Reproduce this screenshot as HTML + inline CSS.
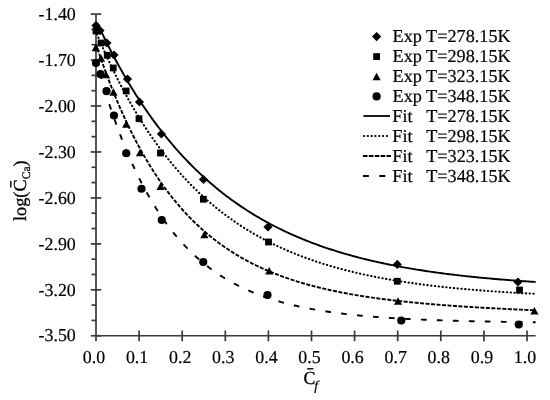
<!DOCTYPE html>
<html><head><meta charset="utf-8"><style>html,body{margin:0;padding:0;background:#fff;width:550px;height:400px;overflow:hidden}</style></head>
<body>
<svg width="550" height="400" viewBox="0 0 550 400" style="display:block;filter:grayscale(1);text-rendering:geometricPrecision">
<rect width="550" height="400" fill="#fff"/>
<g stroke="#3a3a3a" stroke-width="1.7" fill="none">
<path d="M96 14.10V341.2"/>
<path d="M96 335.75H535.6"/>
<path d="M90.7 14.10H101.3"/>
<path d="M91.5 29.42H96"/>
<path d="M91.5 44.73H96"/>
<path d="M90.7 60.05H101.3"/>
<path d="M91.5 75.37H96"/>
<path d="M91.5 90.69H96"/>
<path d="M90.7 106.00H101.3"/>
<path d="M91.5 121.32H96"/>
<path d="M91.5 136.64H96"/>
<path d="M90.7 151.95H101.3"/>
<path d="M91.5 167.27H96"/>
<path d="M91.5 182.59H96"/>
<path d="M90.7 197.90H101.3"/>
<path d="M91.5 213.22H96"/>
<path d="M91.5 228.54H96"/>
<path d="M90.7 243.85H101.3"/>
<path d="M91.5 259.17H96"/>
<path d="M91.5 274.49H96"/>
<path d="M90.7 289.81H101.3"/>
<path d="M91.5 305.12H96"/>
<path d="M91.5 320.44H96"/>
<path d="M90.7 335.76H101.3"/>
<path d="M139.10 330.5V341.2"/>
<path d="M182.20 330.5V341.2"/>
<path d="M225.30 330.5V341.2"/>
<path d="M268.40 330.5V341.2"/>
<path d="M311.50 330.5V341.2"/>
<path d="M354.60 330.5V341.2"/>
<path d="M397.70 330.5V341.2"/>
<path d="M440.80 330.5V341.2"/>
<path d="M483.90 330.5V341.2"/>
<path d="M527.00 330.5V341.2"/>
</g>
<g font-family="Liberation Serif, serif" font-size="17.9" fill="#000" stroke="#000" stroke-width="0.2" text-anchor="end">
<text transform="translate(75.8,19.80) scale(1,1.02)">-1.40</text>
<text transform="translate(75.8,65.75) scale(1,1.02)">-1.70</text>
<text transform="translate(75.8,111.70) scale(1,1.02)">-2.00</text>
<text transform="translate(75.8,157.65) scale(1,1.02)">-2.30</text>
<text transform="translate(75.8,203.60) scale(1,1.02)">-2.60</text>
<text transform="translate(75.8,249.55) scale(1,1.02)">-2.90</text>
<text transform="translate(75.8,295.51) scale(1,1.02)">-3.20</text>
<text transform="translate(75.8,341.46) scale(1,1.02)">-3.50</text>
</g>
<g font-family="Liberation Serif, serif" font-size="17.9" fill="#000" stroke="#000" stroke-width="0.2" text-anchor="middle">
<text transform="translate(94.00,363.0) scale(1,1.02)">0.0</text>
<text transform="translate(137.10,363.0) scale(1,1.02)">0.1</text>
<text transform="translate(180.20,363.0) scale(1,1.02)">0.2</text>
<text transform="translate(223.30,363.0) scale(1,1.02)">0.3</text>
<text transform="translate(266.40,363.0) scale(1,1.02)">0.4</text>
<text transform="translate(309.50,363.0) scale(1,1.02)">0.5</text>
<text transform="translate(352.60,363.0) scale(1,1.02)">0.6</text>
<text transform="translate(395.70,363.0) scale(1,1.02)">0.7</text>
<text transform="translate(438.80,363.0) scale(1,1.02)">0.8</text>
<text transform="translate(481.90,363.0) scale(1,1.02)">0.9</text>
<text transform="translate(525.00,363.0) scale(1,1.02)">1.0</text>
</g>
<path d="M97.29 23.10 L98.76 26.24 L100.22 29.35 L101.69 32.43 L103.16 35.46 L104.62 38.46 L106.09 41.43 L107.55 44.36 L109.02 47.25 L110.49 50.11 L111.95 52.94 L113.42 55.74 L114.88 58.50 L116.35 61.23 L117.82 63.92 L119.28 66.59 L120.75 69.22 L122.21 71.82 L123.68 74.39 L125.15 76.93 L126.61 79.44 L128.08 81.92 L129.54 84.38 L131.01 86.80 L132.48 89.19 L133.94 91.56 L135.41 93.90 L136.87 96.21 L138.34 98.49 L139.81 100.75 L141.27 102.98 L142.74 105.18 L144.20 107.36 L145.67 109.51 L147.14 111.64 L148.60 113.74 L150.07 115.81 L151.53 117.87 L153.00 119.89 L154.47 121.90 L155.93 123.88 L157.40 125.83 L158.86 127.77 L160.33 129.68 L161.80 131.56 L163.26 133.43 L164.73 135.27 L166.19 137.10 L167.66 138.90 L169.13 140.68 L170.59 142.43 L172.06 144.17 L173.52 145.89 L174.99 147.59 L176.46 149.26 L177.92 150.92 L179.39 152.56 L180.85 154.17 L182.32 155.77 L183.79 157.35 L185.25 158.91 L186.72 160.46 L188.18 161.98 L189.65 163.49 L191.12 164.98 L192.58 166.45 L194.05 167.90 L195.51 169.34 L196.98 170.76 L198.45 172.16 L199.91 173.55 L201.38 174.92 L202.84 176.27 L204.31 177.61 L205.78 178.93 L207.24 180.24 L208.71 181.53 L210.17 182.81 L211.64 184.07 L213.11 185.31 L214.57 186.54 L216.04 187.76 L217.50 188.96 L218.97 190.15 L220.44 191.33 L221.90 192.49 L223.37 193.63 L224.83 194.77 L226.30 195.89 L227.76 196.99 L229.23 198.09 L230.70 199.17 L232.16 200.23 L233.63 201.29 L235.09 202.33 L236.56 203.36 L238.03 204.38 L239.49 205.39 L240.96 206.38 L242.42 207.36 L243.89 208.33 L245.36 209.29 L246.82 210.24 L248.29 211.18 L249.75 212.10 L251.22 213.02 L252.69 213.92 L254.15 214.82 L255.62 215.70 L257.08 216.57 L258.55 217.43 L260.02 218.29 L261.48 219.13 L262.95 219.96 L264.41 220.78 L265.88 221.59 L267.35 222.40 L268.81 223.19 L270.28 223.98 L271.74 224.75 L273.21 225.52 L274.68 226.27 L276.14 227.02 L277.61 227.76 L279.07 228.49 L280.54 229.21 L282.01 229.92 L283.47 230.63 L284.94 231.32 L286.40 232.01 L287.87 232.69 L289.34 233.36 L290.80 234.03 L292.27 234.68 L293.73 235.33 L295.20 235.97 L296.67 236.61 L298.13 237.23 L299.60 237.85 L301.06 238.46 L302.53 239.06 L304.00 239.66 L305.46 240.25 L306.93 240.83 L308.39 241.41 L309.86 241.98 L311.33 242.54 L312.79 243.10 L314.26 243.65 L315.72 244.19 L317.19 244.72 L318.66 245.25 L320.12 245.78 L321.59 246.29 L323.05 246.81 L324.52 247.31 L325.99 247.81 L327.45 248.30 L328.92 248.79 L330.38 249.27 L331.85 249.75 L333.32 250.22 L334.78 250.68 L336.25 251.14 L337.71 251.60 L339.18 252.05 L340.65 252.49 L342.11 252.93 L343.58 253.36 L345.04 253.79 L346.51 254.21 L347.97 254.63 L349.44 255.04 L350.91 255.45 L352.37 255.85 L353.84 256.25 L355.30 256.65 L356.77 257.04 L358.24 257.42 L359.70 257.80 L361.17 258.17 L362.63 258.55 L364.10 258.91 L365.57 259.27 L367.03 259.63 L368.50 259.99 L369.96 260.34 L371.43 260.68 L372.90 261.02 L374.36 261.36 L375.83 261.69 L377.29 262.02 L378.76 262.35 L380.23 262.67 L381.69 262.99 L383.16 263.30 L384.62 263.61 L386.09 263.92 L387.56 264.22 L389.02 264.52 L390.49 264.82 L391.95 265.11 L393.42 265.40 L394.89 265.69 L396.35 265.97 L397.82 266.25 L399.28 266.52 L400.75 266.80 L402.22 267.07 L403.68 267.33 L405.15 267.59 L406.61 267.85 L408.08 268.11 L409.55 268.36 L411.01 268.62 L412.48 268.86 L413.94 269.11 L415.41 269.35 L416.88 269.59 L418.34 269.83 L419.81 270.06 L421.27 270.29 L422.74 270.52 L424.21 270.74 L425.67 270.97 L427.14 271.19 L428.60 271.40 L430.07 271.62 L431.54 271.83 L433.00 272.04 L434.47 272.25 L435.93 272.45 L437.40 272.65 L438.87 272.85 L440.33 273.05 L441.80 273.25 L443.26 273.44 L444.73 273.63 L446.20 273.82 L447.66 274.01 L449.13 274.19 L450.59 274.37 L452.06 274.55 L453.53 274.73 L454.99 274.91 L456.46 275.08 L457.92 275.25 L459.39 275.42 L460.86 275.59 L462.32 275.75 L463.79 275.92 L465.25 276.08 L466.72 276.24 L468.19 276.39 L469.65 276.55 L471.12 276.70 L472.58 276.86 L474.05 277.01 L475.51 277.16 L476.98 277.30 L478.45 277.45 L479.91 277.59 L481.38 277.73 L482.84 277.87 L484.31 278.01 L485.78 278.15 L487.24 278.28 L488.71 278.42 L490.17 278.55 L491.64 278.68 L493.11 278.81 L494.57 278.94 L496.04 279.06 L497.50 279.19 L498.97 279.31 L500.44 279.43 L501.90 279.55 L503.37 279.67 L504.83 279.79 L506.30 279.90 L507.77 280.02 L509.23 280.13 L510.70 280.24 L512.16 280.35 L513.63 280.46 L515.10 280.57 L516.56 280.68 L518.03 280.78 L519.49 280.89 L520.96 280.99 L522.43 281.09 L523.89 281.19 L525.36 281.29 L526.82 281.39 L528.29 281.49 L529.76 281.58 L531.22 281.68 L532.69 281.77 L534.15 281.86 L535.62 281.95" fill="none" stroke="#000" stroke-width="1.9"/>
<path d="M96.00 31.91 L97.47 35.42 L98.94 38.89 L100.41 42.30 L101.88 45.67 L103.35 49.00 L104.82 52.28 L106.29 55.52 L107.76 58.72 L109.23 61.87 L110.70 64.98 L112.17 68.05 L113.64 71.08 L115.11 74.07 L116.58 77.01 L118.05 79.92 L119.52 82.79 L121.00 85.62 L122.47 88.42 L123.94 91.17 L125.41 93.89 L126.88 96.58 L128.35 99.23 L129.82 101.84 L131.29 104.42 L132.76 106.96 L134.23 109.48 L135.70 111.95 L137.17 114.40 L138.64 116.81 L140.11 119.19 L141.58 121.54 L143.05 123.86 L144.52 126.15 L145.99 128.40 L147.46 130.63 L148.93 132.83 L150.40 135.00 L151.87 137.14 L153.34 139.25 L154.81 141.33 L156.28 143.39 L157.75 145.42 L159.22 147.42 L160.69 149.40 L162.16 151.35 L163.63 153.28 L165.10 155.18 L166.57 157.05 L168.04 158.90 L169.52 160.73 L170.99 162.53 L172.46 164.31 L173.93 166.06 L175.40 167.79 L176.87 169.50 L178.34 171.19 L179.81 172.85 L181.28 174.50 L182.75 176.12 L184.22 177.72 L185.69 179.30 L187.16 180.85 L188.63 182.39 L190.10 183.91 L191.57 185.41 L193.04 186.88 L194.51 188.34 L195.98 189.78 L197.45 191.20 L198.92 192.61 L200.39 193.99 L201.86 195.36 L203.33 196.70 L204.80 198.03 L206.27 199.35 L207.74 200.64 L209.21 201.92 L210.68 203.18 L212.15 204.43 L213.62 205.66 L215.09 206.87 L216.56 208.07 L218.03 209.25 L219.51 210.42 L220.98 211.57 L222.45 212.71 L223.92 213.83 L225.39 214.94 L226.86 216.03 L228.33 217.11 L229.80 218.17 L231.27 219.22 L232.74 220.26 L234.21 221.28 L235.68 222.29 L237.15 223.29 L238.62 224.27 L240.09 225.24 L241.56 226.20 L243.03 227.15 L244.50 228.08 L245.97 229.00 L247.44 229.91 L248.91 230.81 L250.38 231.69 L251.85 232.57 L253.32 233.43 L254.79 234.28 L256.26 235.12 L257.73 235.95 L259.20 236.77 L260.67 237.58 L262.14 238.38 L263.61 239.17 L265.08 239.94 L266.55 240.71 L268.03 241.47 L269.50 242.22 L270.97 242.95 L272.44 243.68 L273.91 244.40 L275.38 245.11 L276.85 245.81 L278.32 246.50 L279.79 247.18 L281.26 247.86 L282.73 248.52 L284.20 249.18 L285.67 249.82 L287.14 250.46 L288.61 251.09 L290.08 251.72 L291.55 252.33 L293.02 252.94 L294.49 253.53 L295.96 254.13 L297.43 254.71 L298.90 255.28 L300.37 255.85 L301.84 256.41 L303.31 256.97 L304.78 257.51 L306.25 258.05 L307.72 258.58 L309.19 259.11 L310.66 259.63 L312.13 260.14 L313.60 260.65 L315.07 261.14 L316.55 261.64 L318.02 262.12 L319.49 262.60 L320.96 263.07 L322.43 263.54 L323.90 264.00 L325.37 264.46 L326.84 264.91 L328.31 265.35 L329.78 265.79 L331.25 266.22 L332.72 266.65 L334.19 267.07 L335.66 267.48 L337.13 267.89 L338.60 268.30 L340.07 268.70 L341.54 269.09 L343.01 269.48 L344.48 269.87 L345.95 270.25 L347.42 270.62 L348.89 270.99 L350.36 271.35 L351.83 271.71 L353.30 272.07 L354.77 272.42 L356.24 272.77 L357.71 273.11 L359.18 273.45 L360.65 273.78 L362.12 274.11 L363.59 274.43 L365.07 274.75 L366.54 275.07 L368.01 275.38 L369.48 275.69 L370.95 275.99 L372.42 276.29 L373.89 276.59 L375.36 276.88 L376.83 277.17 L378.30 277.45 L379.77 277.74 L381.24 278.01 L382.71 278.29 L384.18 278.56 L385.65 278.82 L387.12 279.09 L388.59 279.35 L390.06 279.60 L391.53 279.86 L393.00 280.11 L394.47 280.35 L395.94 280.60 L397.41 280.84 L398.88 281.08 L400.35 281.31 L401.82 281.54 L403.29 281.77 L404.76 282.00 L406.23 282.22 L407.70 282.44 L409.17 282.65 L410.64 282.87 L412.11 283.08 L413.59 283.29 L415.06 283.49 L416.53 283.70 L418.00 283.90 L419.47 284.09 L420.94 284.29 L422.41 284.48 L423.88 284.67 L425.35 284.86 L426.82 285.05 L428.29 285.23 L429.76 285.41 L431.23 285.59 L432.70 285.76 L434.17 285.94 L435.64 286.11 L437.11 286.28 L438.58 286.45 L440.05 286.61 L441.52 286.77 L442.99 286.93 L444.46 287.09 L445.93 287.25 L447.40 287.40 L448.87 287.56 L450.34 287.71 L451.81 287.86 L453.28 288.00 L454.75 288.15 L456.22 288.29 L457.69 288.43 L459.16 288.57 L460.63 288.71 L462.10 288.84 L463.58 288.98 L465.05 289.11 L466.52 289.24 L467.99 289.37 L469.46 289.50 L470.93 289.62 L472.40 289.75 L473.87 289.87 L475.34 289.99 L476.81 290.11 L478.28 290.23 L479.75 290.34 L481.22 290.46 L482.69 290.57 L484.16 290.68 L485.63 290.79 L487.10 290.90 L488.57 291.01 L490.04 291.12 L491.51 291.22 L492.98 291.32 L494.45 291.42 L495.92 291.53 L497.39 291.63 L498.86 291.72 L500.33 291.82 L501.80 291.92 L503.27 292.01 L504.74 292.10 L506.21 292.19 L507.68 292.29 L509.15 292.38 L510.62 292.46 L512.10 292.55 L513.57 292.64 L515.04 292.72 L516.51 292.81 L517.98 292.89 L519.45 292.97 L520.92 293.05 L522.39 293.13 L523.86 293.21 L525.33 293.29 L526.80 293.36 L528.27 293.44 L529.74 293.51 L531.21 293.59 L532.68 293.66 L534.15 293.73 L535.62 293.80" fill="none" stroke="#000" stroke-width="2.1" stroke-dasharray="0.3 3.5" stroke-dashoffset="1.37" stroke-linecap="round"/>
<path d="M96.00 44.28 L97.47 48.69 L98.94 53.03 L100.41 57.29 L101.88 61.49 L103.35 65.61 L104.82 69.66 L106.29 73.64 L107.76 77.56 L109.23 81.41 L110.70 85.19 L112.17 88.91 L113.64 92.57 L115.11 96.16 L116.58 99.70 L118.05 103.17 L119.52 106.59 L121.00 109.95 L122.47 113.25 L123.94 116.50 L125.41 119.69 L126.88 122.83 L128.35 125.91 L129.82 128.94 L131.29 131.93 L132.76 134.86 L134.23 137.74 L135.70 140.58 L137.17 143.36 L138.64 146.10 L140.11 148.79 L141.58 151.44 L143.05 154.05 L144.52 156.61 L145.99 159.12 L147.46 161.60 L148.93 164.03 L150.40 166.42 L151.87 168.77 L153.34 171.08 L154.81 173.36 L156.28 175.59 L157.75 177.79 L159.22 179.95 L160.69 182.08 L162.16 184.17 L163.63 186.22 L165.10 188.24 L166.57 190.23 L168.04 192.18 L169.52 194.10 L170.99 195.99 L172.46 197.84 L173.93 199.67 L175.40 201.46 L176.87 203.23 L178.34 204.96 L179.81 206.67 L181.28 208.35 L182.75 210.00 L184.22 211.62 L185.69 213.22 L187.16 214.78 L188.63 216.33 L190.10 217.84 L191.57 219.34 L193.04 220.80 L194.51 222.25 L195.98 223.66 L197.45 225.06 L198.92 226.43 L200.39 227.78 L201.86 229.11 L203.33 230.41 L204.80 231.70 L206.27 232.96 L207.74 234.20 L209.21 235.42 L210.68 236.62 L212.15 237.80 L213.62 238.96 L215.09 240.10 L216.56 241.23 L218.03 242.33 L219.51 243.42 L220.98 244.48 L222.45 245.53 L223.92 246.57 L225.39 247.58 L226.86 248.58 L228.33 249.57 L229.80 250.54 L231.27 251.49 L232.74 252.42 L234.21 253.34 L235.68 254.25 L237.15 255.14 L238.62 256.01 L240.09 256.88 L241.56 257.72 L243.03 258.56 L244.50 259.38 L245.97 260.18 L247.44 260.98 L248.91 261.76 L250.38 262.53 L251.85 263.28 L253.32 264.03 L254.79 264.76 L256.26 265.48 L257.73 266.19 L259.20 266.88 L260.67 267.57 L262.14 268.24 L263.61 268.90 L265.08 269.56 L266.55 270.20 L268.03 270.83 L269.50 271.45 L270.97 272.06 L272.44 272.67 L273.91 273.26 L275.38 273.84 L276.85 274.41 L278.32 274.98 L279.79 275.53 L281.26 276.08 L282.73 276.62 L284.20 277.15 L285.67 277.67 L287.14 278.18 L288.61 278.69 L290.08 279.18 L291.55 279.67 L293.02 280.15 L294.49 280.63 L295.96 281.09 L297.43 281.55 L298.90 282.00 L300.37 282.45 L301.84 282.88 L303.31 283.31 L304.78 283.74 L306.25 284.16 L307.72 284.57 L309.19 284.97 L310.66 285.37 L312.13 285.76 L313.60 286.15 L315.07 286.53 L316.55 286.90 L318.02 287.27 L319.49 287.63 L320.96 287.99 L322.43 288.34 L323.90 288.69 L325.37 289.03 L326.84 289.36 L328.31 289.70 L329.78 290.02 L331.25 290.34 L332.72 290.66 L334.19 290.97 L335.66 291.28 L337.13 291.58 L338.60 291.88 L340.07 292.17 L341.54 292.46 L343.01 292.74 L344.48 293.02 L345.95 293.30 L347.42 293.57 L348.89 293.84 L350.36 294.10 L351.83 294.36 L353.30 294.62 L354.77 294.87 L356.24 295.12 L357.71 295.36 L359.18 295.61 L360.65 295.84 L362.12 296.08 L363.59 296.31 L365.07 296.54 L366.54 296.76 L368.01 296.98 L369.48 297.20 L370.95 297.42 L372.42 297.63 L373.89 297.84 L375.36 298.05 L376.83 298.25 L378.30 298.45 L379.77 298.65 L381.24 298.84 L382.71 299.04 L384.18 299.23 L385.65 299.41 L387.12 299.60 L388.59 299.78 L390.06 299.96 L391.53 300.14 L393.00 300.31 L394.47 300.48 L395.94 300.65 L397.41 300.82 L398.88 300.99 L400.35 301.15 L401.82 301.31 L403.29 301.47 L404.76 301.63 L406.23 301.78 L407.70 301.93 L409.17 302.08 L410.64 302.23 L412.11 302.38 L413.59 302.53 L415.06 302.67 L416.53 302.81 L418.00 302.95 L419.47 303.09 L420.94 303.22 L422.41 303.36 L423.88 303.49 L425.35 303.62 L426.82 303.75 L428.29 303.88 L429.76 304.01 L431.23 304.13 L432.70 304.26 L434.17 304.38 L435.64 304.50 L437.11 304.62 L438.58 304.73 L440.05 304.85 L441.52 304.97 L442.99 305.08 L444.46 305.19 L445.93 305.30 L447.40 305.41 L448.87 305.52 L450.34 305.63 L451.81 305.73 L453.28 305.84 L454.75 305.94 L456.22 306.04 L457.69 306.15 L459.16 306.25 L460.63 306.35 L462.10 306.44 L463.58 306.54 L465.05 306.64 L466.52 306.73 L467.99 306.83 L469.46 306.92 L470.93 307.01 L472.40 307.10 L473.87 307.19 L475.34 307.28 L476.81 307.37 L478.28 307.46 L479.75 307.54 L481.22 307.63 L482.69 307.71 L484.16 307.80 L485.63 307.88 L487.10 307.96 L488.57 308.04 L490.04 308.13 L491.51 308.21 L492.98 308.29 L494.45 308.36 L495.92 308.44 L497.39 308.52 L498.86 308.60 L500.33 308.67 L501.80 308.75 L503.27 308.82 L504.74 308.89 L506.21 308.97 L507.68 309.04 L509.15 309.11 L510.62 309.18 L512.10 309.25 L513.57 309.32 L515.04 309.39 L516.51 309.46 L517.98 309.53 L519.45 309.60 L520.92 309.67 L522.39 309.73 L523.86 309.80 L525.33 309.87 L526.80 309.93 L528.27 310.00 L529.74 310.06 L531.21 310.12 L532.68 310.19 L534.15 310.25 L535.62 310.31" fill="none" stroke="#000" stroke-width="1.9" stroke-dasharray="4.0 1.5" stroke-dashoffset="0.97" stroke-linecap="butt"/>
<path d="M96.00 59.72 L97.47 65.04 L98.94 70.25 L100.41 75.36 L101.88 80.36 L103.35 85.26 L104.82 90.06 L106.29 94.76 L107.76 99.36 L109.23 103.88 L110.70 108.30 L112.17 112.63 L113.64 116.87 L115.11 121.03 L116.58 125.10 L118.05 129.09 L119.52 133.00 L121.00 136.83 L122.47 140.58 L123.94 144.26 L125.41 147.86 L126.88 151.39 L128.35 154.84 L129.82 158.23 L131.29 161.55 L132.76 164.80 L134.23 167.98 L135.70 171.10 L137.17 174.15 L138.64 177.15 L140.11 180.08 L141.58 182.95 L143.05 185.77 L144.52 188.53 L145.99 191.23 L147.46 193.88 L148.93 196.47 L150.40 199.01 L151.87 201.50 L153.34 203.94 L154.81 206.33 L156.28 208.67 L157.75 210.96 L159.22 213.21 L160.69 215.41 L162.16 217.56 L163.63 219.68 L165.10 221.75 L166.57 223.78 L168.04 225.76 L169.52 227.71 L170.99 229.62 L172.46 231.49 L173.93 233.32 L175.40 235.11 L176.87 236.87 L178.34 238.59 L179.81 240.27 L181.28 241.93 L182.75 243.55 L184.22 245.13 L185.69 246.69 L187.16 248.21 L188.63 249.70 L190.10 251.16 L191.57 252.60 L193.04 254.00 L194.51 255.37 L195.98 256.72 L197.45 258.04 L198.92 259.33 L200.39 260.60 L201.86 261.84 L203.33 263.06 L204.80 264.25 L206.27 265.42 L207.74 266.56 L209.21 267.68 L210.68 268.78 L212.15 269.86 L213.62 270.91 L215.09 271.94 L216.56 272.96 L218.03 273.95 L219.51 274.92 L220.98 275.87 L222.45 276.80 L223.92 277.72 L225.39 278.61 L226.86 279.49 L228.33 280.35 L229.80 281.19 L231.27 282.02 L232.74 282.83 L234.21 283.62 L235.68 284.40 L237.15 285.16 L238.62 285.90 L240.09 286.64 L241.56 287.35 L243.03 288.05 L244.50 288.74 L245.97 289.41 L247.44 290.07 L248.91 290.72 L250.38 291.35 L251.85 291.98 L253.32 292.58 L254.79 293.18 L256.26 293.77 L257.73 294.34 L259.20 294.90 L260.67 295.45 L262.14 295.99 L263.61 296.52 L265.08 297.03 L266.55 297.54 L268.03 298.04 L269.50 298.52 L270.97 299.00 L272.44 299.47 L273.91 299.93 L275.38 300.38 L276.85 300.82 L278.32 301.25 L279.79 301.67 L281.26 302.09 L282.73 302.49 L284.20 302.89 L285.67 303.28 L287.14 303.66 L288.61 304.04 L290.08 304.40 L291.55 304.76 L293.02 305.12 L294.49 305.46 L295.96 305.80 L297.43 306.13 L298.90 306.46 L300.37 306.78 L301.84 307.09 L303.31 307.40 L304.78 307.70 L306.25 307.99 L307.72 308.28 L309.19 308.56 L310.66 308.84 L312.13 309.11 L313.60 309.38 L315.07 309.64 L316.55 309.89 L318.02 310.15 L319.49 310.39 L320.96 310.63 L322.43 310.87 L323.90 311.10 L325.37 311.33 L326.84 311.55 L328.31 311.77 L329.78 311.98 L331.25 312.19 L332.72 312.40 L334.19 312.60 L335.66 312.80 L337.13 312.99 L338.60 313.18 L340.07 313.37 L341.54 313.55 L343.01 313.73 L344.48 313.90 L345.95 314.07 L347.42 314.24 L348.89 314.41 L350.36 314.57 L351.83 314.73 L353.30 314.89 L354.77 315.04 L356.24 315.19 L357.71 315.34 L359.18 315.48 L360.65 315.62 L362.12 315.76 L363.59 315.90 L365.07 316.03 L366.54 316.16 L368.01 316.29 L369.48 316.41 L370.95 316.54 L372.42 316.66 L373.89 316.78 L375.36 316.89 L376.83 317.01 L378.30 317.12 L379.77 317.23 L381.24 317.34 L382.71 317.44 L384.18 317.54 L385.65 317.65 L387.12 317.75 L388.59 317.84 L390.06 317.94 L391.53 318.03 L393.00 318.13 L394.47 318.22 L395.94 318.30 L397.41 318.39 L398.88 318.48 L400.35 318.56 L401.82 318.64 L403.29 318.72 L404.76 318.80 L406.23 318.88 L407.70 318.96 L409.17 319.03 L410.64 319.11 L412.11 319.18 L413.59 319.25 L415.06 319.32 L416.53 319.39 L418.00 319.45 L419.47 319.52 L420.94 319.58 L422.41 319.65 L423.88 319.71 L425.35 319.77 L426.82 319.83 L428.29 319.89 L429.76 319.94 L431.23 320.00 L432.70 320.06 L434.17 320.11 L435.64 320.17 L437.11 320.22 L438.58 320.27 L440.05 320.32 L441.52 320.37 L442.99 320.42 L444.46 320.47 L445.93 320.51 L447.40 320.56 L448.87 320.61 L450.34 320.65 L451.81 320.69 L453.28 320.74 L454.75 320.78 L456.22 320.82 L457.69 320.86 L459.16 320.90 L460.63 320.94 L462.10 320.98 L463.58 321.02 L465.05 321.05 L466.52 321.09 L467.99 321.13 L469.46 321.16 L470.93 321.20 L472.40 321.23 L473.87 321.27 L475.34 321.30 L476.81 321.33 L478.28 321.36 L479.75 321.39 L481.22 321.43 L482.69 321.46 L484.16 321.49 L485.63 321.52 L487.10 321.54 L488.57 321.57 L490.04 321.60 L491.51 321.63 L492.98 321.65 L494.45 321.68 L495.92 321.71 L497.39 321.73 L498.86 321.76 L500.33 321.78 L501.80 321.81 L503.27 321.83 L504.74 321.85 L506.21 321.88 L507.68 321.90 L509.15 321.92 L510.62 321.95 L512.10 321.97 L513.57 321.99 L515.04 322.01 L516.51 322.03 L517.98 322.05 L519.45 322.07 L520.92 322.09 L522.39 322.11 L523.86 322.13 L525.33 322.15 L526.80 322.17 L528.27 322.19 L529.74 322.20 L531.21 322.22 L532.68 322.24 L534.15 322.26 L535.62 322.27" fill="none" stroke="#000" stroke-width="1.9" stroke-dasharray="5.7 10.3" stroke-dashoffset="1.69" stroke-linecap="butt"/>
<g fill="#000">
<circle cx="96.00" cy="63.00" r="4.1"/>
<circle cx="100.50" cy="74.20" r="4.1"/>
<circle cx="106.50" cy="91.20" r="4.1"/>
<circle cx="114.00" cy="115.50" r="4.1"/>
<circle cx="126.25" cy="153.25" r="4.1"/>
<circle cx="141.50" cy="188.75" r="4.1"/>
<circle cx="161.75" cy="220.00" r="4.1"/>
<circle cx="203.25" cy="262.00" r="4.1"/>
<circle cx="267.50" cy="295.00" r="4.1"/>
<circle cx="401.25" cy="320.50" r="4.1"/>
<circle cx="518.75" cy="324.50" r="4.1"/>
<path d="M95.80 43.80L99.90 51.20L91.70 51.20Z"/>
<path d="M101.00 54.30L105.10 61.70L96.90 61.70Z"/>
<path d="M106.00 70.80L110.10 78.20L101.90 78.20Z"/>
<path d="M113.50 88.30L117.60 95.70L109.40 95.70Z"/>
<path d="M126.25 120.30L130.35 127.70L122.15 127.70Z"/>
<path d="M140.00 148.80L144.10 156.20L135.90 156.20Z"/>
<path d="M160.60 182.55L164.70 189.95L156.50 189.95Z"/>
<path d="M204.40 230.80L208.50 238.20L200.30 238.20Z"/>
<path d="M269.25 267.05L273.35 274.45L265.15 274.45Z"/>
<path d="M398.00 297.30L402.10 304.70L393.90 304.70Z"/>
<path d="M534.40 307.10L538.50 314.50L530.30 314.50Z"/>
<rect x="92.60" y="27.60" width="6.80" height="6.80"/>
<rect x="97.60" y="39.60" width="6.80" height="6.80"/>
<rect x="103.85" y="51.85" width="6.80" height="6.80"/>
<rect x="109.85" y="64.60" width="6.80" height="6.80"/>
<rect x="122.80" y="87.60" width="6.80" height="6.80"/>
<rect x="135.60" y="115.35" width="6.80" height="6.80"/>
<rect x="157.10" y="149.60" width="6.80" height="6.80"/>
<rect x="200.00" y="195.85" width="6.80" height="6.80"/>
<rect x="265.10" y="238.60" width="6.80" height="6.80"/>
<rect x="393.90" y="277.85" width="6.80" height="6.80"/>
<rect x="516.10" y="286.60" width="6.80" height="6.80"/>
<path d="M96.00 20.90L100.60 25.50L96.00 30.10L91.40 25.50Z"/>
<path d="M100.00 26.00L104.60 30.60L100.00 35.20L95.40 30.60Z"/>
<path d="M106.90 38.40L111.50 43.00L106.90 47.60L102.30 43.00Z"/>
<path d="M114.00 50.40L118.60 55.00L114.00 59.60L109.40 55.00Z"/>
<path d="M127.50 74.40L132.10 79.00L127.50 83.60L122.90 79.00Z"/>
<path d="M139.50 97.40L144.10 102.00L139.50 106.60L134.90 102.00Z"/>
<path d="M161.40 129.40L166.00 134.00L161.40 138.60L156.80 134.00Z"/>
<path d="M203.50 174.90L208.10 179.50L203.50 184.10L198.90 179.50Z"/>
<path d="M268.00 222.40L272.60 227.00L268.00 231.60L263.40 227.00Z"/>
<path d="M397.30 259.80L401.90 264.40L397.30 269.00L392.70 264.40Z"/>
<path d="M518.00 277.40L522.60 282.00L518.00 286.60L513.40 282.00Z"/>
</g>
<g fill="#000">
<path d="M376.60 32.00L381.20 36.60L376.60 41.20L372.00 36.60Z"/>
<rect x="373.20" y="53.15" width="6.80" height="6.80"/>
<path d="M376.60 72.80L380.70 80.20L372.50 80.20Z"/>
<circle cx="376.60" cy="96.45" r="4.1"/>
</g>
<g stroke="#000" stroke-width="1.8">
<path d="M363.4 116H390"/>
<path d="M363.9 136.1H388" stroke-dasharray="0.3 3.5" stroke-linecap="round" stroke-width="2.0"/>
<path d="M362.9 156H391" stroke-dasharray="4.6 1.3"/>
<path d="M362.9 176H391" stroke-dasharray="6 10.4"/>
</g>
<g font-family="Liberation Serif, serif" font-size="18.2" fill="#000" stroke="#000" stroke-width="0.2">
<text transform="translate(392.6,42.2) scale(1,1.0)">Exp T=278.15K</text>
<text transform="translate(392.6,62.2) scale(1,1.0)">Exp T=298.15K</text>
<text transform="translate(392.6,82.2) scale(1,1.0)">Exp T=323.15K</text>
<text transform="translate(392.6,102.2) scale(1,1.0)">Exp T=348.15K</text>
<text transform="translate(392.3,122.2) scale(1,1.0)">Fit</text><text transform="translate(426.2,122.2) scale(1,1.0)">T=278.15K</text>
<text transform="translate(392.3,142.2) scale(1,1.0)">Fit</text><text transform="translate(426.2,142.2) scale(1,1.0)">T=298.15K</text>
<text transform="translate(392.3,162.2) scale(1,1.0)">Fit</text><text transform="translate(426.2,162.2) scale(1,1.0)">T=323.15K</text>
<text transform="translate(392.3,182.2) scale(1,1.0)">Fit</text><text transform="translate(426.2,182.2) scale(1,1.0)">T=348.15K</text>
</g>
<g font-family="Liberation Serif, serif" fill="#000"><text transform="translate(303.6,384) scale(1,1.03)" font-size="17.8" stroke="#000" stroke-width="0.3">C</text><path d="M307.2 368.8H313.4" stroke="#000" stroke-width="1.4"/><text x="314.2" y="389.6" font-size="13.5" font-style="italic" stroke="#000" stroke-width="0.2">f</text></g>
<g transform="translate(26,221) rotate(-90)" font-family="Liberation Serif, serif" fill="#000"><text x="0" y="0" font-size="18.3" stroke="#000" stroke-width="0.3">log(C<tspan font-size="11.6" dy="4.3">Ca</tspan><tspan dy="-4.3">)</tspan></text><path d="M 33.5 -15.2 H 40" stroke="#000" stroke-width="1.4"/></g>
</svg>
</body></html>
